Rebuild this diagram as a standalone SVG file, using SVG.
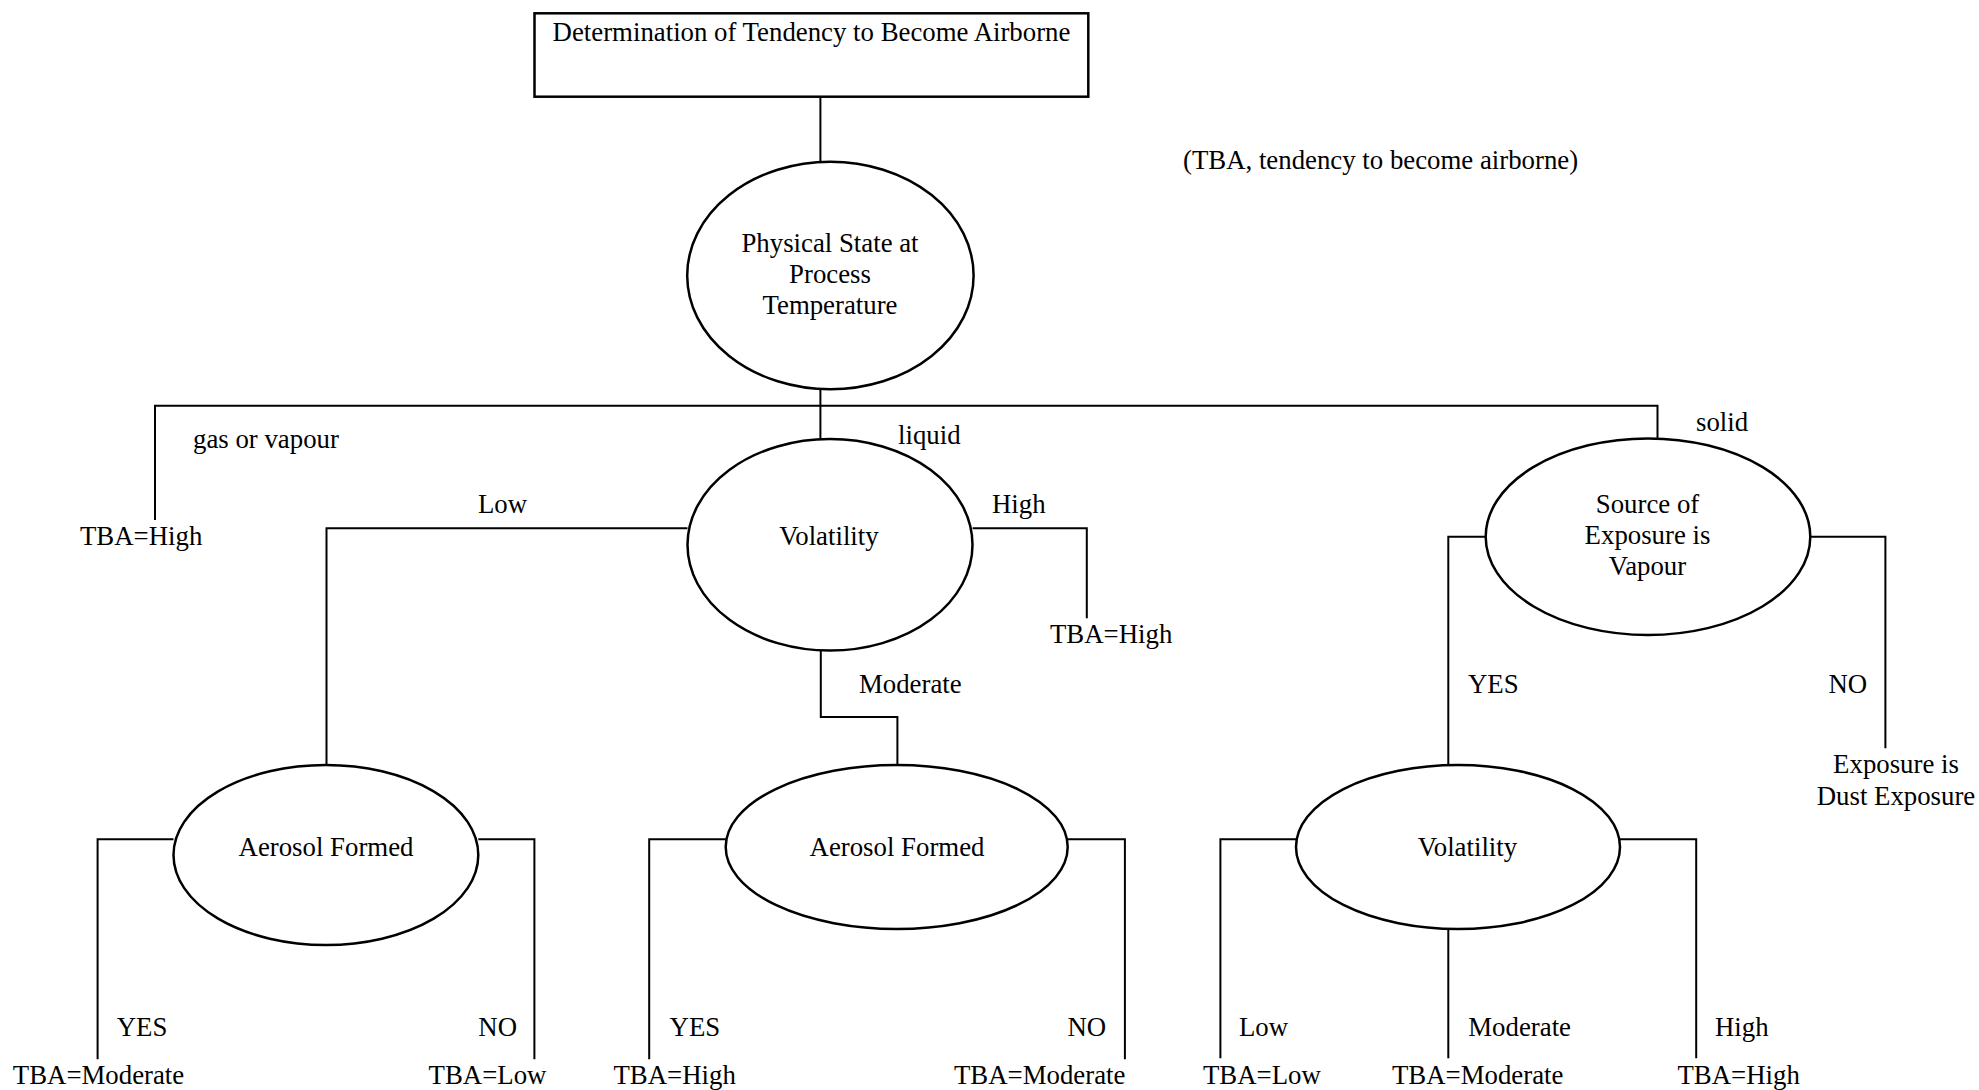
<svg xmlns="http://www.w3.org/2000/svg" width="1979" height="1090" viewBox="0 0 1979 1090">
<style>
text{font-family:"Liberation Serif","Times New Roman",serif;font-size:26.8px;fill:#000}
.m{text-anchor:middle}
.n{fill:#fff;stroke:#000;stroke-width:2.5}
.c{fill:none;stroke:#000;stroke-width:2}
</style>
<rect width="1979" height="1090" fill="#fff"/>
<g id="connectors">
<path class="c" d="M820.4 96.7V161.7"/>
<path class="c" d="M820.4 389.3V439"/>
<path class="c" d="M155 520V405.7H1657.5V438.3"/>
<path class="c" d="M687.5 528.3H326.5V765"/>
<path class="c" d="M972.6 528.3H1086.8V618.3"/>
<path class="c" d="M820.8 650.7V717H897.4V765"/>
<path class="c" d="M173.5 839.3H97.6V1059.3"/>
<path class="c" d="M478.3 839.3H534.4V1059.3"/>
<path class="c" d="M725.8 839.3H649.2V1059.3"/>
<path class="c" d="M1067.4 839.3H1124.9V1059.3"/>
<path class="c" d="M1485.8 536.7H1448.3V765"/>
<path class="c" d="M1810.4 536.7H1885.4V748.3"/>
<path class="c" d="M1296 839.3H1220.4V1058.3"/>
<path class="c" d="M1620 839.3H1696.2V1058.3"/>
<path class="c" d="M1448.3 929V1058.3"/>
</g>
<g id="edge-labels">
<text x="193" y="448">gas or vapour</text>
<text x="898" y="444">liquid</text>
<text x="1696" y="431">solid</text>
<text x="478" y="513">Low</text>
<text x="992" y="513">High</text>
<text x="859" y="693">Moderate</text>
<text x="1468" y="693">YES</text>
<text x="1828.5" y="693">NO</text>
<text x="116.7" y="1036">YES</text>
<text x="478.3" y="1036">NO</text>
<text x="669.6" y="1036">YES</text>
<text x="1067.4" y="1036">NO</text>
<text x="1239" y="1036">Low</text>
<text x="1468.3" y="1036">Moderate</text>
<text x="1715" y="1036">High</text>
</g>
<g id="title">
<rect class="n" x="534.5" y="13.3" width="553.8" height="83.4" stroke-width="2"/>
<text class="m" x="811.5" y="41">Determination of Tendency to Become Airborne</text>
</g>
<g id="note"><text x="1183" y="169">(TBA, tendency to become airborne)</text></g>
<g id="physical-state">
<ellipse class="n" cx="830.4" cy="275.5" rx="143.2" ry="113.8"/>
<text class="m" x="830" y="252">Physical State at</text>
<text class="m" x="830" y="283">Process</text>
<text class="m" x="830" y="314">Temperature</text>
</g>
<g id="volatility-liquid">
<ellipse class="n" cx="830" cy="544.8" rx="142.5" ry="105.8"/>
<text class="m" x="829" y="545">Volatility</text>
</g>
<g id="source-vapour">
<ellipse class="n" cx="1648" cy="536.7" rx="162.3" ry="98.3"/>
<text class="m" x="1647.5" y="513">Source of</text>
<text class="m" x="1647.5" y="544">Exposure is</text>
<text class="m" x="1647.5" y="575">Vapour</text>
</g>
<g id="aerosol-low">
<ellipse class="n" cx="325.9" cy="855" rx="152.4" ry="90"/>
<text class="m" x="326" y="856">Aerosol Formed</text>
</g>
<g id="aerosol-moderate">
<ellipse class="n" cx="896.7" cy="847" rx="171" ry="82"/>
<text class="m" x="897" y="856">Aerosol Formed</text>
</g>
<g id="volatility-solid">
<ellipse class="n" cx="1458" cy="847" rx="162" ry="82"/>
<text class="m" x="1467.5" y="856">Volatility</text>
</g>
<g id="leaf-gas"><text x="80" y="545">TBA=High</text></g>
<g id="leaf-liquid-high"><text x="1050" y="643">TBA=High</text></g>
<g id="leaf-dust">
<text class="m" x="1896" y="773">Exposure is</text>
<text class="m" x="1896" y="805">Dust Exposure</text>
</g>
<g id="leaf-a1-yes"><text x="12.8" y="1084">TBA=Moderate</text></g>
<g id="leaf-a1-no"><text x="428.6" y="1084">TBA=Low</text></g>
<g id="leaf-a2-yes"><text x="613.5" y="1084">TBA=High</text></g>
<g id="leaf-a2-no"><text x="954" y="1084">TBA=Moderate</text></g>
<g id="leaf-v3-low"><text x="1203" y="1084">TBA=Low</text></g>
<g id="leaf-v3-mod"><text x="1392" y="1084">TBA=Moderate</text></g>
<g id="leaf-v3-high"><text x="1677.5" y="1084">TBA=High</text></g>
</svg>
